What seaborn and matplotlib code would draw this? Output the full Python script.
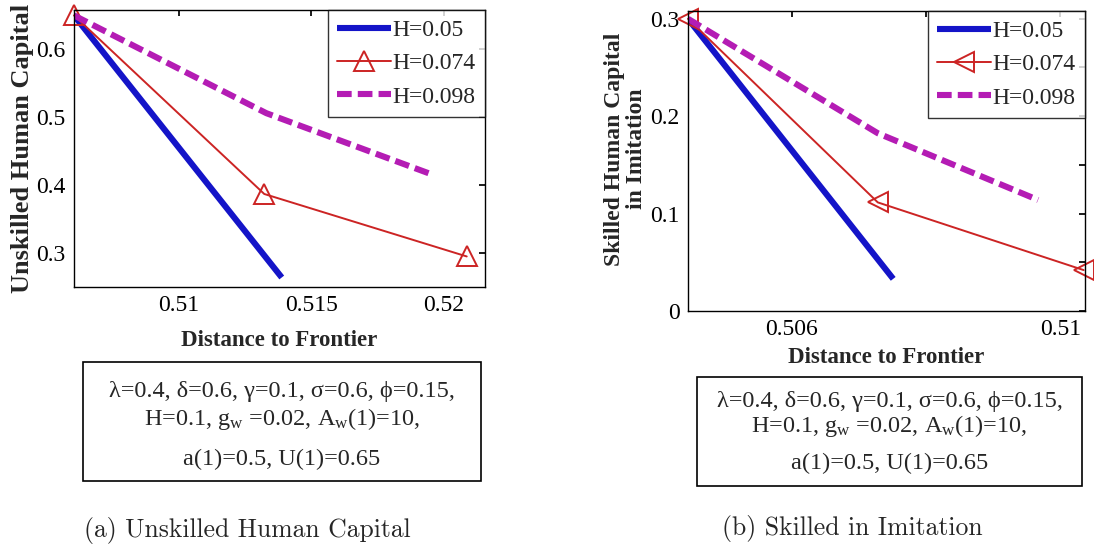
import matplotlib
matplotlib.use("Agg")
import matplotlib.pyplot as plt
from matplotlib.patches import Rectangle
import numpy as np
import pandas as pd
import seaborn as sns

# ---- data -------------------------------------------------------------
series_labels = ["H=0.05", "H=0.074", "H=0.098"]

# (a) unskilled human capital vs distance to frontier
dist_a_h050 = [0.50604, 0.51388]
unsk_a_h050 = [0.650, 0.264]
dist_a_h074 = [0.50604, 0.51322, 0.52086]
unsk_a_h074 = [0.650, 0.387, 0.295]
dist_a_h098 = [0.50604, 0.51330, 0.51960]
unsk_a_h098 = [0.650, 0.506, 0.415]

# (b) skilled human capital in imitation vs distance to frontier
dist_b_h050 = [0.50445, 0.50751]
skil_b_h050 = [0.300, 0.033]
dist_b_h074 = [0.50445, 0.50728, 0.51035]
skil_b_h074 = [0.300, 0.1115, 0.042]
dist_b_h098 = [0.50445, 0.50728, 0.50967]
skil_b_h098 = [0.300, 0.1825, 0.114]

xticks_a = [0.510, 0.515, 0.520]
xticklabels_a = ["0.51", "0.515", "0.52"]
yticks_a = [0.3, 0.4, 0.5, 0.6]
yticklabels_a = ["0.3", "0.4", "0.5", "0.6"]

xticks_b = [0.506, 0.508, 0.510]
xticklabels_b = ["0.506", "", "0.51"]
yticks_b = [0.0, 0.05, 0.10, 0.15, 0.20, 0.25, 0.30]
yticklabels_b = ["0", "", "0.1", "", "0.2", "", "0.3"]

param_lines = [
    "λ=0.4, δ=0.6, γ=0.1, σ=0.6, ϕ=0.15,",
    r"H=0.1, g$_{\mathrm{w}}$ =0.02, A$_{\mathrm{w}}$(1)=10,",
    "a(1)=0.5, U(1)=0.65",
]

# ---- style ------------------------------------------------------------
sns.set_theme(style="white")
plt.rcParams.update({
    "font.family": ["Liberation Serif", "DejaVu Serif"],
    "mathtext.fontset": "custom",
    "mathtext.rm": "Liberation Serif",
    "mathtext.it": "Liberation Serif:italic",
    "mathtext.bf": "Liberation Serif:bold",
    "axes.edgecolor": "black",
    "axes.linewidth": 1.0,
    "xtick.direction": "in",
    "ytick.direction": "in",
    "xtick.top": True,
    "ytick.right": True,
    "xtick.major.size": 4,
    "ytick.major.size": 4,
    "xtick.color": "black",
    "ytick.color": "black",
})

BLUE = "#1414c8"
RED = "#cc2424"
MAGENTA = "#b41cb4"


def make_frame(xs, ys):
    return pd.DataFrame({"x": xs, "y": ys})


def draw_panel(ax, data, marker):
    (x1, y1), (x2, y2), (x3, y3) = data
    sns.lineplot(data=make_frame(x1, y1), x="x", y="y", ax=ax, color=BLUE,
                 linewidth=4.4, label=series_labels[0], solid_capstyle="butt")
    sns.lineplot(data=make_frame(x2, y2), x="x", y="y", ax=ax, color=RED,
                 linewidth=1.4, marker=marker, markersize=14,
                 markerfacecolor="none", markeredgecolor=RED,
                 markeredgewidth=1.4, label=series_labels[1], clip_on=False)
    sns.lineplot(data=make_frame(x3, y3), x="x", y="y", ax=ax, color=MAGENTA,
                 linewidth=4.4, linestyle=(0, (2.4, 1.0)),
                 label=series_labels[2], dash_capstyle="butt")
    ax.set_xlabel("")
    ax.set_ylabel("")
    leg = ax.legend(loc="upper right", fontsize=17, frameon=True,
                    fancybox=False, borderaxespad=0.0, handlelength=2.3,
                    handletextpad=0.05, labelspacing=0.5, borderpad=0.4)
    leg.get_frame().set_edgecolor("black")
    leg.get_frame().set_linewidth(1.0)
    for spine in ax.spines.values():
        spine.set_visible(True)
        spine.set_color("black")
    ax.tick_params(labelsize=17, pad=6)


fig = plt.figure(figsize=(10.94, 5.48), dpi=100)
W, H = 1094, 548


def axes_px(x0, y0, x1, y1):
    return fig.add_axes([x0 / W, 1 - y1 / H, (x1 - x0) / W, (y1 - y0) / H])


ax_a = axes_px(74, 10, 485, 287)
ax_b = axes_px(688, 11, 1085, 311)

draw_panel(ax_a, [(dist_a_h050, unsk_a_h050), (dist_a_h074, unsk_a_h074),
                  (dist_a_h098, unsk_a_h098)], "^")
draw_panel(ax_b, [(dist_b_h050, skil_b_h050), (dist_b_h074, skil_b_h074),
                  (dist_b_h098, skil_b_h098)], "<")

ax_a.set_xlim(0.50604, 0.52155)
ax_a.set_ylim(0.25, 0.658)
ax_a.set_xticks(xticks_a, xticklabels_a)
ax_a.set_yticks(yticks_a, yticklabels_a)

ax_b.set_xlim(0.50445, 0.51037)
ax_b.set_ylim(0.0, 0.308)
ax_b.set_xticks(xticks_b, xticklabels_b)
ax_b.set_yticks(yticks_b, yticklabels_b)

ax_a.set_xlabel("Distance to Frontier", fontsize=16.5, fontweight="bold")
ax_a.xaxis.set_label_coords(0.5, -0.155)
ax_a.set_ylabel("Unskilled Human Capital", fontsize=19, fontweight="bold")
ax_a.yaxis.set_label_coords(-0.097, 0.5)

ax_b.set_xlabel("Distance to Frontier", fontsize=16.5, fontweight="bold")
ax_b.xaxis.set_label_coords(0.5, -0.12)
ax_b.set_ylabel("Skilled Human Capital\nin Imitation", linespacing=1.05,
                fontsize=17, fontweight="bold")
ax_b.yaxis.set_label_coords(-0.103, 0.54)


def param_box(x0, y0, x1, y1, line_y):
    fig.patches.append(Rectangle((x0 / W, 1 - y1 / H), (x1 - x0) / W,
                                 (y1 - y0) / H, transform=fig.transFigure,
                                 fill=False, edgecolor="black", linewidth=1.2))
    cx = (x0 + x1) / 2 / W
    for text, yy in zip(param_lines, line_y):
        fig.text(cx, 1 - yy / H, text, ha="center", va="center", fontsize=17.5)


param_box(83, 362, 481, 481, [391, 419, 459])
param_box(697, 377, 1082, 486, [401, 426, 463])

fig.text(247 / W, 1 - 530 / H, "(a) Unskilled Human Capital",
         family="cmr10", fontsize=18.5, ha="center", va="center")
fig.text(852 / W, 1 - 528 / H, "(b) Skilled in Imitation",
         family="cmr10", fontsize=18.5, ha="center", va="center")

fig.savefig("out.png", dpi=100)
